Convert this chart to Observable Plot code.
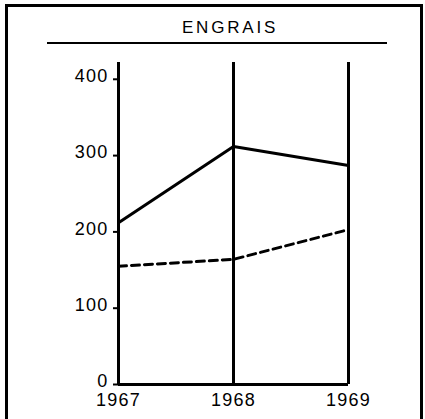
<!DOCTYPE html>
<html>
<head>
<meta charset="utf-8">
<script src="https://cdn.jsdelivr.net/npm/d3@7"></script>
<script src="https://cdn.jsdelivr.net/npm/@observablehq/plot@0.6"></script>
<style>
  html, body { margin: 0; padding: 0; background: #fff; }
  #wrap { position: relative; width: 425px; height: 419px; overflow: hidden; background: #fff; }
  #frame { position: absolute; left: 5px; top: 4px; width: 412px; height: 430px; border-left: 3px solid #000; border-right: 3px solid #000; border-top: 3px solid #000; }
  #title { position: absolute; left: 0; width: 460px; top: 18px; text-align: center; font-family: "Liberation Sans", Arial, sans-serif; font-size: 17px; letter-spacing: 2.8px; color: #000; line-height: 19px; }
  #rule { position: absolute; left: 47px; top: 42px; width: 340px; height: 2px; background: #000; }
  #chart { position: absolute; left: 0; top: 0; }
</style>
</head>
<body>
<div id="wrap">
  <div id="frame"></div>
  <div id="title"></div>
  <div id="rule"></div>
  <div id="chart"></div>
</div>
<script>
const title = "ENGRAIS";
const years = [1967, 1968, 1969];
const solidValues = [212, 312, 287];
const dashedValues = [155, 164, 203];
const yTicks = [0, 100, 200, 300, 400];
const yTop = 422;

document.getElementById("title").textContent = title;

const solidRows = years.map((year, i) => ({year, value: solidValues[i]}));
const dashedRows = years.map((year, i) => ({year, value: dashedValues[i]}));

const chart = Plot.plot({
  width: 425,
  height: 419,
  marginLeft: 118,
  marginRight: 77,
  marginTop: 62,
  marginBottom: 35,
  style: {fontFamily: "'Liberation Sans', Arial, sans-serif", fontSize: "18px", color: "#000", background: "transparent", letterSpacing: "1.2px"},
  x: {domain: [years[0], years[years.length - 1]]},
  y: {domain: [0, yTop]},
  marks: [
    Plot.ruleX(years, {x: d => d, y1: 0, y2: yTop, stroke: "#000", strokeWidth: 3}),
    Plot.ruleY([0], {x1: years[0], x2: years[years.length - 1], stroke: "#000", strokeWidth: 3}),
    Plot.line(solidRows, {x: "year", y: "value", stroke: "#000", strokeWidth: 3}),
    Plot.line(dashedRows, {x: "year", y: "value", stroke: "#000", strokeWidth: 3, strokeDasharray: "8,5"}),
    Plot.axisY({ticks: yTicks, tickSize: 5, strokeWidth: 2, tickFormat: () => "", label: null}),
    Plot.axisY({ticks: yTicks, tickSize: 0, tickPadding: 10, fontSize: 18, dy: -3, tickFormat: d => String(d), label: null}),
    Plot.axisX({ticks: years, tickSize: 0, tickPadding: 9, fontSize: 18, tickFormat: d => String(d), label: null})
  ]
});
document.getElementById("chart").appendChild(chart);
</script>
</body>
</html>
